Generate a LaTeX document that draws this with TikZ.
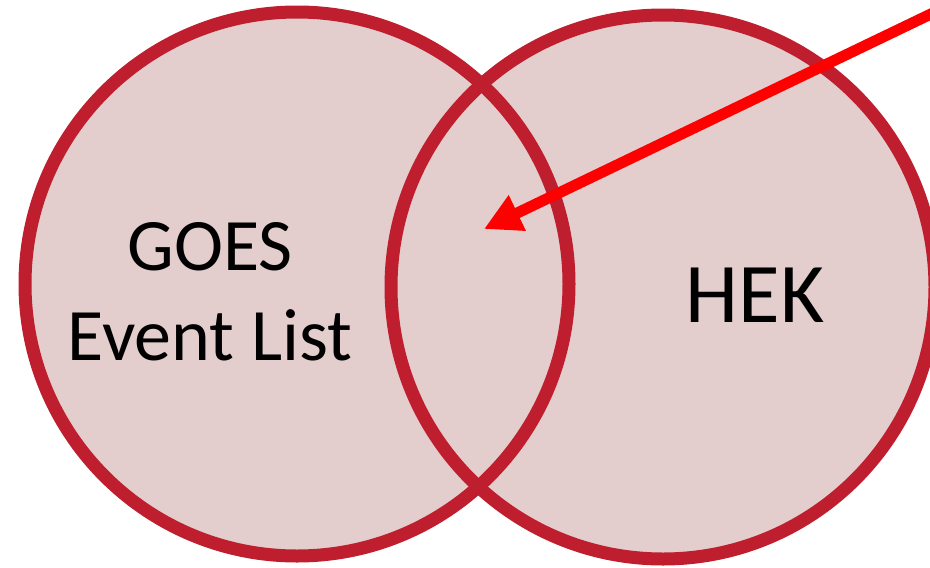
\documentclass[tikz,border=0pt]{standalone}
\usepackage{fontspec}
\setmainfont{Carlito}
\usetikzlibrary{arrows.meta}

\definecolor{setfill}{RGB}{227,205,205}
\definecolor{setrim}{RGB}{190,30,45}

\tikzset{
  set/.style={circle, fill=setfill, minimum size=544pt, inner sep=0pt},
  rim/.style={draw=setrim, line width=13pt},
  settext/.style={align=center, font=\fontsize{74}{90}\selectfont},
  pointer/.style={draw=red, line width=11pt, -{Triangle[length=37pt,width=37pt]}}
}

\begin{document}
\begin{tikzpicture}[x=1pt,y=-1pt]
  \clip (0,0) rectangle (930,568);
  \fill[white] (0,0) rectangle (930,568);

  \node[set] (goes) at (297,284) {};
  \node[set] (hek)  at (663,287) {};
  \foreach \s in {goes,hek}
    \draw[rim] (\s.center) circle[radius=272];

  \node[settext] (goeslbl) at (210,292) {GOES\\Event List};
  \node[settext, font=\fontsize{85}{100}\selectfont] (heklbl) at (755,295) {HEK};

  % pointer into the overlap
  \coordinate (src) at (960,0);
  \coordinate (both) at (484,229);
  \path[pointer] (src) -- (both);
\end{tikzpicture}
\end{document}
